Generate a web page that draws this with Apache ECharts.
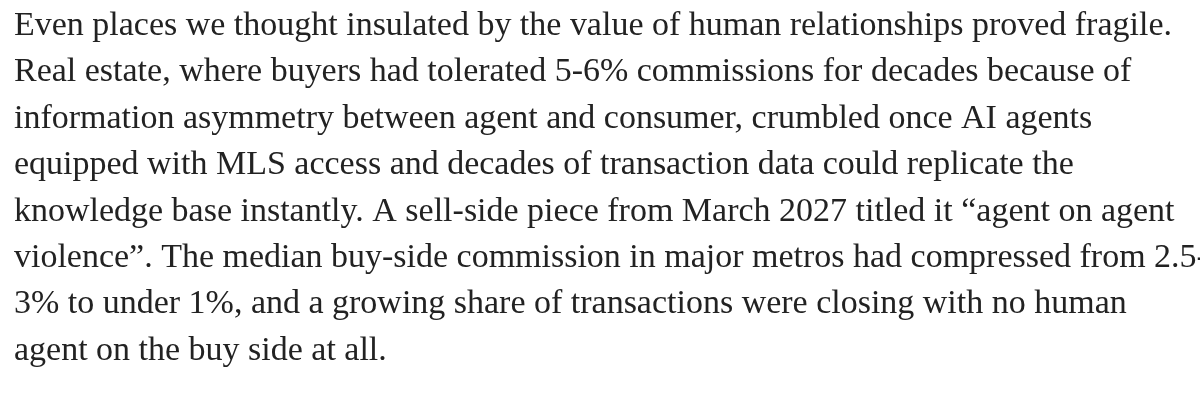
<!DOCTYPE html>
<html>
<head>
<meta charset="utf-8">
<script src="https://cdn.jsdelivr.net/npm/echarts@6/dist/echarts.min.js"></script>
<style>
html, body { margin: 0; padding: 0; background: #fff; }
#main { width: 1200px; height: 405px; }
</style>
</head>
<body>
<div id="main"></div>
<script>
// paragraph lines, as wrapped in the original
var lines = [
    'Even places we thought insulated by the value of human relationships proved fragile.',
    'Real estate, where buyers had tolerated 5-6% commissions for decades because of',
    'information asymmetry between agent and consumer, crumbled once AI agents',
    'equipped with MLS access and decades of transaction data could replicate the',
    'knowledge base instantly. A sell-side piece from March 2027 titled it \u201cagent on agent',
    'violence\u201d. The median buy-side commission in major metros had compressed from 2.5-',
    '3% to under 1%, and a growing share of transactions were closing with no human',
    'agent on the buy side at all.'
];

var chartDom = document.getElementById('main');
var myChart = echarts.init(chartDom);

var fontFamily = '"Liberation Serif", "DejaVu Serif", serif';
// pick a font size so the first line spans about the same width as the reference
var ctx = document.createElement('canvas').getContext('2d');
ctx.font = '28px ' + fontFamily;
var w28 = ctx.measureText(lines[0]).width;
var fontSize = 28 * 1158 / w28;

var elements = lines.map(function (t, i) {
    return {
        type: 'text',
        x: 14,
        y: 26 + i * 46.4,
        style: {
            text: t,
            font: fontSize.toFixed(2) + 'px ' + fontFamily,
            fill: '#222',
            verticalAlign: 'middle'
        }
    };
});

var option = {
    backgroundColor: '#fff',
    graphic: { elements: elements }
};
option && myChart.setOption(option);
</script>
</body>
</html>
